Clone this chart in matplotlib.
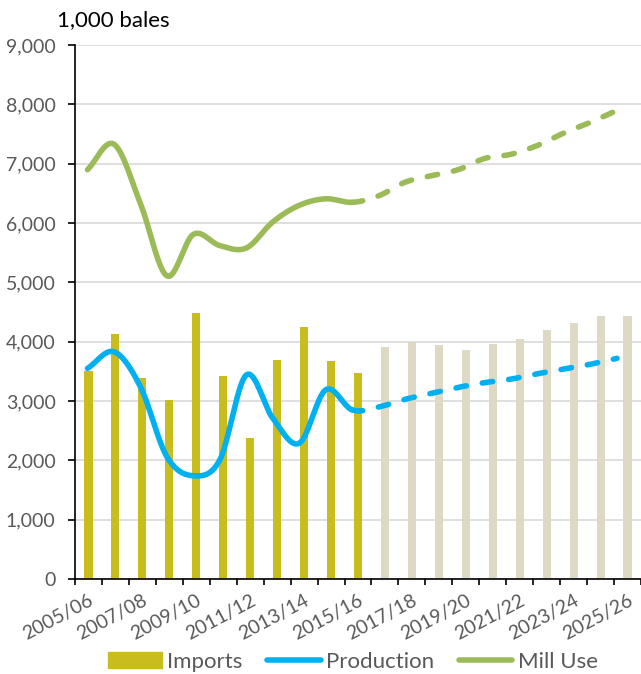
import numpy as np
import matplotlib
matplotlib.use("Agg")
import matplotlib.pyplot as plt
from matplotlib.patches import Patch
from matplotlib.lines import Line2D
import matplotlib.transforms as mtransforms

plt.rcParams['font.family'] = ['Lato', 'DejaVu Sans']

years = ['2005/06', '2006/07', '2007/08', '2008/09', '2009/10', '2010/11', '2011/12',
         '2012/13', '2013/14', '2014/15', '2015/16', '2016/17', '2017/18', '2018/19',
         '2019/20', '2020/21', '2021/22', '2022/23', '2023/24', '2024/25', '2025/26']
imports = [3510, 4130, 3380, 3010, 4480, 3430, 2380, 3690, 4250, 3680, 3470,
           3910, 4000, 3950, 3860, 3960, 4050, 4200, 4320, 4430, 4430]
production = [3550, 3830, 3240, 2060, 1740, 2010, 3440, 2710, 2290, 3190, 2850,
              2900, 3030, 3130, 3230, 3310, 3370, 3460, 3540, 3620, 3720]
mill_use = [6900, 7330, 6330, 5110, 5810, 5620, 5580, 6020, 6300, 6410, 6350,
            6460, 6690, 6800, 6900, 7090, 7160, 7310, 7520, 7700, 7900]
n_hist = 11  # 2005/06 .. 2015/16 are actuals, the rest projections

gold = '#C9BD1E'
beige = '#DDD9C4'
blue = '#00B0F0'
green = '#9BBB59'
grey = '#595959'
lw = 4.0


def smooth(y, steps=20):
    # catmull-rom through every point, like excel's smoothed line
    y = np.asarray(y, dtype=float)
    p = np.concatenate([[2 * y[0] - y[1]], y, [2 * y[-1] - y[-2]]])
    xs, ys = [], []
    for i in range(len(y) - 1):
        p0, p1, p2, p3 = p[i], p[i + 1], p[i + 2], p[i + 3]
        t = np.linspace(0, 1, steps, endpoint=False)
        v = 0.5 * (2 * p1 + (-p0 + p2) * t + (2 * p0 - 5 * p1 + 4 * p2 - p3) * t ** 2
                   + (-p0 + 3 * p1 - 3 * p2 + p3) * t ** 3)
        xs.append(i + t)
        ys.append(v)
    xs.append([len(y) - 1])
    ys.append([y[-1]])
    return np.concatenate(xs), np.concatenate(ys)


fig = plt.figure(figsize=(6.41, 6.74), dpi=100)
ax = fig.add_axes([0.117, 0.141, 0.883, 0.792])

x = np.arange(len(years))
colors = [gold if i < n_hist else beige for i in range(len(years))]
ax.bar(x, imports, width=0.3, color=colors, zorder=2)

ax.set_xlim(-0.5, len(years) - 0.5)
ax.set_ylim(0, 9000)
ax.set_yticks(np.arange(0, 9001, 1000))
ax.set_yticklabels([f'{v:,}' for v in range(0, 9001, 1000)])
ax.yaxis.grid(True, color='#D9D9D9', linewidth=1.2, zorder=0)
ax.set_axisbelow(True)
ax.set_xticks(np.arange(-0.5, len(years), 1), minor=False)
ax.set_xticklabels([])
ax.set_xticks(x, minor=True)
ax.set_xticklabels([y if i % 2 == 0 else '' for i, y in enumerate(years)], minor=True,
                   rotation=28, ha='right', va='top', rotation_mode='anchor')
shift = mtransforms.ScaledTranslation(3 / 100, 0, fig.dpi_scale_trans)
for lab in ax.get_xticklabels(minor=True):
    lab.set_transform(lab.get_transform() + shift)
ax.tick_params(axis='x', which='minor', length=0, pad=9, labelsize=14, labelcolor=grey)
ax.tick_params(axis='x', which='major', length=4.5, width=1.2, direction='out')
ax.tick_params(axis='y', length=5, width=1.2, direction='out', labelsize=14,
               labelcolor=grey, pad=9)
for s in ['top', 'right']:
    ax.spines[s].set_visible(False)
for s in ['left', 'bottom']:
    ax.spines[s].set_linewidth(1.2)
    ax.spines[s].set_color('black')

# lines sit on their own category axis, slightly narrower than the bars
ax2 = ax.twiny()
ax2.set_xlim(-0.472, len(years) - 1 + 0.907)
ax2.set_ylim(0, 9000)
ax2.axis('off')

for vals, col in [(production, blue), (mill_use, green)]:
    sx, sy = smooth(vals)
    solid = sx <= n_hist - 1
    dash = sx >= n_hist - 1
    ax2.plot(sx[solid], sy[solid], color=col, lw=lw, solid_capstyle='round', zorder=3)
    ax2.plot(sx[dash], sy[dash], color=col, lw=lw, dashes=(1.9, 2.9),
             dash_capstyle='round', zorder=3)

fig.text(57 / 641, 1 - 20 / 674, '1,000 bales', fontsize=16, color='black', va='center')

handles = [Patch(color=gold),
           Line2D([], [], color=blue, lw=lw, solid_capstyle='round'),
           Line2D([], [], color=green, lw=lw, solid_capstyle='round')]
fig.legend(handles, ['Imports', 'Production', 'Mill Use'], loc='center',
           bbox_to_anchor=(353 / 641, 1 - 662 / 674), ncol=3, frameon=False,
           fontsize=16, labelcolor=grey, handlelength=2.4, handletextpad=0.25,
           columnspacing=1.1)

fig.savefig('out.png', dpi=100)
